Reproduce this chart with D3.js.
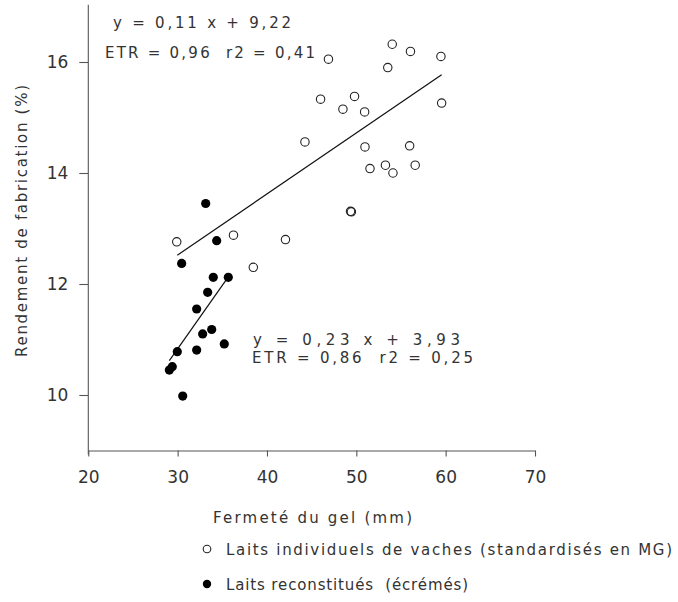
<!DOCTYPE html>
<html>
<head>
<meta charset="utf-8">
<script src="https://cdn.jsdelivr.net/npm/d3@7"></script>
<style>
  body { margin: 0; background: #fff; }
  svg { font-family: "DejaVu Sans", sans-serif; }
  text { fill: #333; white-space: pre; }
</style>
</head>
<body>
<div id="chart"></div>
<script>

// laits individuels de vaches (cercles vides) : [fermete, rendement]
const vachesX = [29.9, 36.25, 38.47, 42.07, 44.25, 46.0, 46.88, 48.5, 49.8, 50.93, 50.97, 51.53,
                 49.35, 49.45, 53.26, 54.1, 55.97, 56.59, 54.02, 56.06, 53.52, 59.47, 59.55]
const vachesY = [12.76, 12.88, 12.30, 12.80, 14.56, 15.33, 16.05, 15.15, 15.38, 15.10, 14.47, 14.08,
                 13.31, 13.30, 14.14, 14.00, 14.49, 14.14, 16.32, 16.19, 15.90, 16.10, 15.26]

// laits reconstitues (points pleins)
const reconsX = [33.14, 34.37, 30.45, 33.99, 35.67, 33.36, 32.13, 33.81, 32.8, 35.22, 32.13, 29.96, 29.4, 29.07, 30.57]
const reconsY = [13.45, 12.78, 12.37, 12.12, 12.12, 11.85, 11.55, 11.18, 11.10, 10.92, 10.81, 10.78, 10.51, 10.45, 9.98]

// droites de regression (extremites)
const droiteVaches = [[29.96, 12.52], [59.55, 15.77]]
const droiteRecons = [[29.07, 10.62], [35.67, 12.13]]

const xTicks = [20, 30, 40, 50, 60, 70]
const yTicks = [10, 12, 14, 16]

const width = 678
const height = 602

const xScale = d3.scaleLinear().domain([20, 70]).range([88.3, 535])
const yScale = d3.scaleLinear().domain([10, 16]).range([395, 62])

const svg = d3.select('#chart')
    .append('svg')
    .attr('width', width)
    .attr('height', height)

// axes
let xAxis = d3.axisBottom(xScale)
    .tickValues(xTicks)
    .tickFormat(d3.format('d'))
    .tickSizeInner(6)
    .tickSizeOuter(0)
    .tickPadding(14)

let yAxis = d3.axisLeft(yScale)
    .tickValues(yTicks)
    .tickFormat(d3.format('d'))
    .tickSizeInner(9)
    .tickSizeOuter(0)
    .tickPadding(11)

const gx = svg.append('g')
    .attr('transform', 'translate(0, ' + yScale(9) + ')')
    .call(xAxis)

const gy = svg.append('g')
    .attr('transform', 'translate(' + xScale(20) + ', 0)')
    .call(yAxis)

// l'axe vertical monte jusqu'a 17
gy.select('.domain').attr('d', 'M0,' + (yScale(9) + 4) + 'V' + yScale(17.03))

svg.selectAll('.domain, .tick line').attr('stroke', '#555').attr('stroke-width', 1.1)
svg.selectAll('.tick text')
    .attr('font-size', 17)
    .attr('font-family', '"DejaVu Sans", sans-serif')
    .attr('fill', '#333')

// titres des axes
svg.append('text')
    .attr('x', 213)
    .attr('y', 523)
    .attr('font-size', 15)
    .attr('textLength', 199)
    .attr('lengthAdjust', 'spacing')
    .text('Fermeté du gel (mm)')

svg.append('text')
    .attr('transform', 'translate(27, 221) rotate(-90)')
    .attr('text-anchor', 'middle')
    .attr('font-size', 15)
    .attr('textLength', 272)
    .attr('lengthAdjust', 'spacing')
    .text('Rendement de fabrication (%)')

// droites
const line = d3.line().x(d => xScale(d[0])).y(d => yScale(d[1]))

svg.append('path')
    .attr('d', line(droiteVaches))
    .attr('fill', 'none')
    .attr('stroke', '#111')
    .attr('stroke-width', 1.2)

svg.append('path')
    .attr('d', line(droiteRecons))
    .attr('fill', 'none')
    .attr('stroke', '#111')
    .attr('stroke-width', 1.2)

// points
svg.selectAll('circle.vache')
    .data(vachesX)
    .enter()
    .append('circle')
    .attr('class', 'vache')
    .attr('cx', d => xScale(d))
    .attr('cy', (d, i) => yScale(vachesY[i]))
    .attr('r', 4.2)
    .attr('fill', 'none')
    .attr('stroke', '#222')
    .attr('stroke-width', 1.1)

svg.selectAll('circle.recons')
    .data(reconsX)
    .enter()
    .append('circle')
    .attr('class', 'recons')
    .attr('cx', d => xScale(d))
    .attr('cy', (d, i) => yScale(reconsY[i]))
    .attr('r', 4.6)
    .attr('fill', '#000')

// equations
const notes = [
    ['y = 0,11 x + 9,22', 113, 28, 178],
    ['ETR = 0,96  r2 = 0,41', 105, 58, 210],
    ['y = 0,23 x + 3,93', 253, 345, 207],
    ['ETR = 0,86  r2 = 0,25', 252, 363, 221]
]
notes.forEach(n => {
    svg.append('text')
        .attr('x', n[1])
        .attr('y', n[2])
        .attr('font-size', 15)
        .attr('textLength', n[3])
        .attr('lengthAdjust', 'spacing')
        .text(n[0])
})

// legende
svg.append('circle')
    .attr('cx', 207)
    .attr('cy', 549)
    .attr('r', 3.8)
    .attr('fill', 'none')
    .attr('stroke', '#222')
    .attr('stroke-width', 1.1)

svg.append('circle')
    .attr('cx', 207)
    .attr('cy', 584)
    .attr('r', 4.2)
    .attr('fill', '#000')

svg.append('text')
    .attr('x', 226)
    .attr('y', 555)
    .attr('font-size', 15)
    .attr('textLength', 446)
    .attr('lengthAdjust', 'spacing')
    .text('Laits individuels de vaches (standardisés en MG)')

svg.append('text')
    .attr('x', 226)
    .attr('y', 590)
    .attr('font-size', 15)
    .attr('textLength', 242)
    .attr('lengthAdjust', 'spacing')
    .text('Laits reconstitués  (écrémés)')

</script>
</body>
</html>
